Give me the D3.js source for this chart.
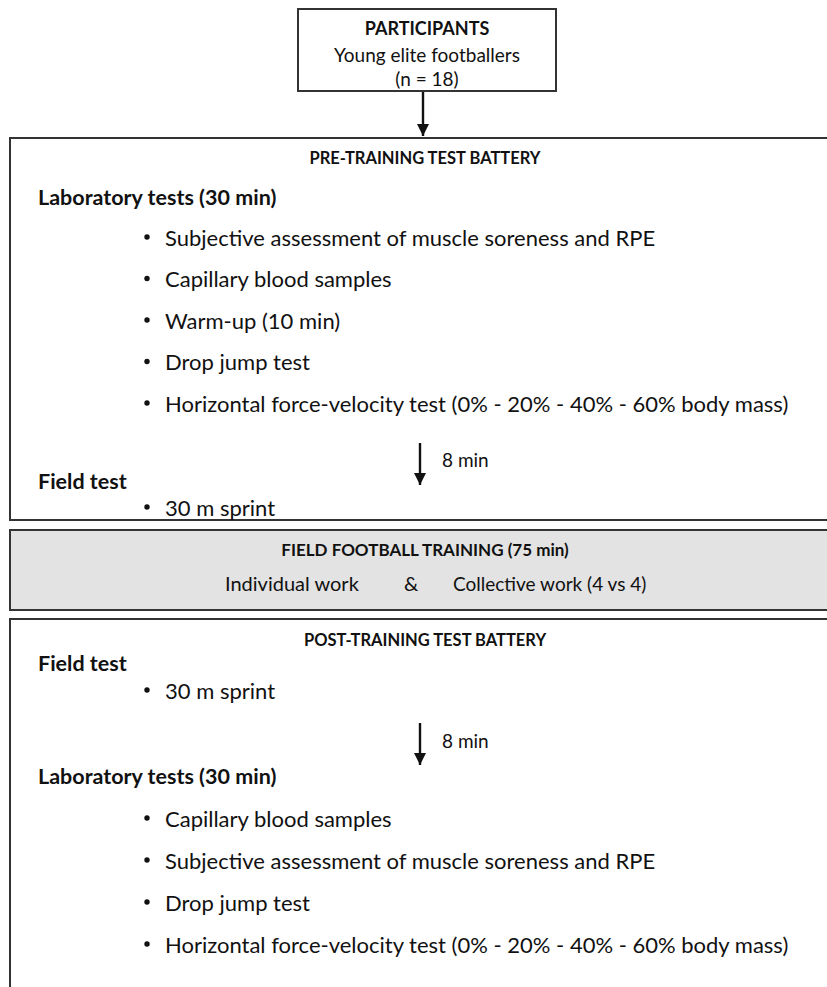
<!DOCTYPE html>
<html>
<head>
<meta charset="utf-8">
<script src="https://cdn.jsdelivr.net/npm/d3@7"></script>
<style>
  html, body { margin: 0; padding: 0; background: #fff; }
  svg { display: block; }
  text { font-family: Lato, "Open Sans", sans-serif; fill: #111; }
</style>
</head>
<body>
<div id="chart"></div>
<script>
// ---- content ----
const participantLines = ["PARTICIPANTS", "Young elite footballers", "(n = 18)"];
const preTitle = "PRE-TRAINING TEST BATTERY";
const preLabHeading = "Laboratory tests (30 min)";
const preLabItems = [
  "Subjective assessment of muscle soreness and RPE",
  "Capillary blood samples",
  "Warm-up (10 min)",
  "Drop jump test",
  "Horizontal force-velocity test (0% - 20% - 40% - 60% body mass)"
];
const restLabel = "8 min";
const fieldHeading = "Field test";
const fieldItems = ["30 m sprint"];
const trainingTitle = "FIELD FOOTBALL TRAINING (75 min)";
const trainingParts = ["Individual work", "&", "Collective work (4 vs 4)"];
const postTitle = "POST-TRAINING TEST BATTERY";
const postLabHeading = "Laboratory tests (30 min)";
const postLabItems = [
  "Capillary blood samples",
  "Subjective assessment of muscle soreness and RPE",
  "Drop jump test",
  "Horizontal force-velocity test (0% - 20% - 40% - 60% body mass)"
];

// ---- drawing ----
const W = 827, H = 987;
const svg = d3.select("#chart").append("svg").attr("width", W).attr("height", H);

const defs = svg.append("defs");
defs.append("marker")
  .attr("id", "ah").attr("viewBox", "0 0 10 10")
  .attr("refX", 10).attr("refY", 5)
  .attr("markerWidth", 12).attr("markerHeight", 12)
  .attr("markerUnits", "userSpaceOnUse")
  .attr("orient", "auto")
  .append("path").attr("d", "M0,0 L10,5 L0,10 Z").attr("fill", "#111");

const stroke = "#333";
const FS = 22;
const headFS = 21.5;
const titleFS = 16.5;
const headX = 38, bulletX = 147, itemX = 165, centerX = 425;

function box(x, y, w, h, fill) {
  svg.append("rect").attr("x", x).attr("y", y).attr("width", w).attr("height", h)
    .attr("fill", fill).attr("stroke", stroke).attr("stroke-width", 2);
}
function txt(str, x, y, opts = {}) {
  return svg.append("text").attr("x", x).attr("y", y)
    .attr("text-anchor", opts.anchor || "start")
    .attr("font-weight", opts.bold ? 700 : 400)
    .attr("font-size", opts.size || FS)
    .attr("dominant-baseline", "central")
    .text(str);
}
function arrow(x, y1, y2) {
  svg.append("line").attr("x1", x).attr("x2", x).attr("y1", y1).attr("y2", y2)
    .attr("stroke", "#111").attr("stroke-width", 2.4).attr("marker-end", "url(#ah)");
}
function bullets(items, ys) {
  items.forEach((s, i) => {
    svg.append("circle").attr("cx", bulletX).attr("cy", ys[i]).attr("r", 2.7).attr("fill", "#111");
    txt(s, itemX, ys[i]);
  });
}
function rowYs(start, step, n) { return d3.range(n).map(i => start + i * step); }

// Participants box
box(298, 9, 258, 82, "#fff");
const pY = [28, 54, 78];
participantLines.forEach((s, i) => txt(s, 427, pY[i], { anchor: "middle", bold: i === 0, size: i === 0 ? 18 : 19 }));
arrow(423, 92, 136);

// Pre-training box
box(10, 138, W + 10, 382, "#fff");
txt(preTitle, centerX, 158, { anchor: "middle", bold: true, size: titleFS });
txt(preLabHeading, headX, 197, { bold: true, size: headFS });
bullets(preLabItems, rowYs(237, 41.5, preLabItems.length));
arrow(420, 443, 485);
txt(restLabel, 442, 459, { size: 19 });
txt(fieldHeading, headX, 481, { bold: true, size: headFS });
bullets(fieldItems, [507]);

// Training box
box(10, 530, W + 10, 80, "#e3e3e3");
txt(trainingTitle, centerX, 549, { anchor: "middle", bold: true, size: 17 });
txt(trainingParts[0], 225, 583, { size: 20 });
txt(trainingParts[1], 411, 583, { anchor: "middle", size: 20 });
txt(trainingParts[2], 453, 583, { size: 19 });

// Post-training box
box(10, 619, W + 10, H, "#fff");
txt(postTitle, centerX, 640, { anchor: "middle", bold: true, size: titleFS });
txt(fieldHeading, headX, 663, { bold: true, size: headFS });
bullets(fieldItems, [690]);
arrow(420, 723, 765);
txt(restLabel, 442, 740, { size: 19 });
txt(postLabHeading, headX, 776, { bold: true, size: headFS });
bullets(postLabItems, rowYs(818, 42, postLabItems.length));
</script>
</body>
</html>
